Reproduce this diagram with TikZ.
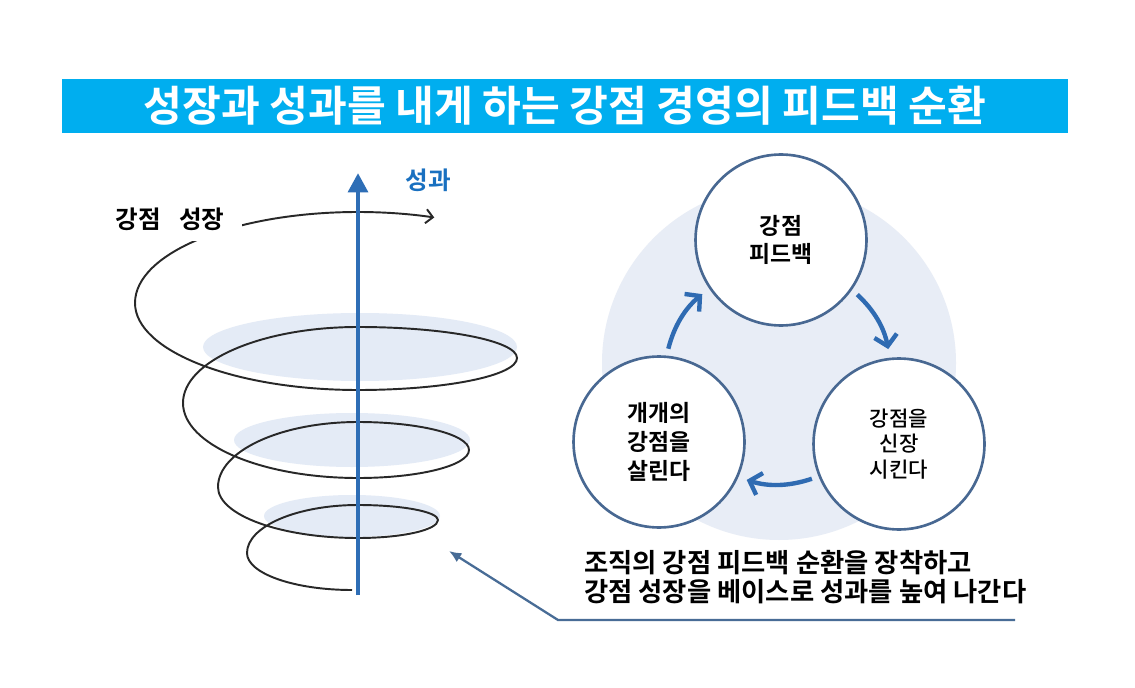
\documentclass[tikz,border=0pt]{standalone}
\usepackage{fontspec}
\setmainfont{Noto Sans CJK KR}[BoldFont={Noto Sans CJK KR Bold}]
\newfontfamily\krmedium{Noto Sans CJK KR Medium}
\usetikzlibrary{arrows.meta}
\definecolor{titlecyan}{RGB}{0,174,239}
\definecolor{axisblue}{RGB}{46,110,182}
\definecolor{labelblue}{RGB}{25,112,192}
\definecolor{discblue}{RGB}{228,235,246}
\definecolor{cyclebg}{RGB}{232,237,246}
\definecolor{ringblue}{RGB}{72,104,146}
\definecolor{arrowblue}{RGB}{47,107,178}
\definecolor{pointerblue}{RGB}{72,108,150}
\definecolor{spiralgrey}{RGB}{40,40,40}
\begin{document}
\begin{tikzpicture}[x=0.02cm, y=0.02cm,
	ring/.style={circle, draw=ringblue, line width=1.5pt, fill=white, minimum size=3.42cm, inner sep=0pt, align=center},
	cyclearrow/.style={draw=arrowblue, line width=2.5pt, -{Straight Barb[length=6pt,width=13pt]}, shorten <=4pt, shorten >=5pt},
	disc/.style={fill=discblue},
	spiral/.style={draw=spiralgrey, line width=1.1pt}]
	\useasboundingbox (0,0) rectangle (1135,687);
	\fill[white] (0,0) rectangle (1135,687);
	\fill[titlecyan] (62,554) rectangle (1068,608) node[midway, text=white, font=\fontsize{24}{28}\selectfont\bfseries] (title) {성장과 성과를 내게 하는 강점 경영의 피드백 순환};

	\fill[disc] (360,340) ellipse[x radius=157, y radius=34];
	\fill[disc] (352,247) ellipse[x radius=118, y radius=27];
	\fill[disc] (352,171) ellipse[x radius=88, y radius=21];
	\draw[spiral, -{Straight Barb[length=4pt,width=8pt]}] (352,97)
		arc[start angle=270, end angle=180, x radius=105, y radius=37]
		arc[start angle=180, end angle=90, x radius=111, y radius=48]
		arc[start angle=90, end angle=0, x radius=80, y radius=15]
		arc[start angle=0, end angle=-90, x radius=80, y radius=18]
		arc[start angle=270, end angle=180, x radius=140, y radius=51]
		arc[start angle=180, end angle=90, x radius=140, y radius=65]
		arc[start angle=90, end angle=0, x radius=111, y radius=28]
		arc[start angle=0, end angle=-90, x radius=111, y radius=28]
		arc[start angle=270, end angle=180, x radius=175, y radius=75]
		arc[start angle=180, end angle=90, x radius=175, y radius=76]
		arc[start angle=90, end angle=0, x radius=159, y radius=31]
		arc[start angle=0, end angle=-90, x radius=159, y radius=32]
		arc[start angle=270, end angle=180, x radius=223, y radius=87]
		arc[start angle=180, end angle=90, x radius=223, y radius=91]
		arc[start angle=90, end angle=70, x radius=223, y radius=91];
	\node[fill=white, inner xsep=10pt, inner ysep=6pt, font=\fontsize{14}{16}\selectfont\bfseries] (growth) at (170,468) {강점\hspace{0.75em}성장};
	\coordinate (axisbase) at (358,92);
	\coordinate (axistop) at (358,514);
	\draw[axisblue, line width=2.8pt, -{Triangle[length=11pt,width=11pt]}] (axisbase) -- (axistop);
	\node[text=labelblue, font=\fontsize{14}{16}\selectfont\bfseries] (perf) at (428,507) {성과};

	\fill[cyclebg] (779,324) circle[radius=177];
	\node[ring, font=\fontsize{13}{16}\selectfont\bfseries] (feedback) at (781,447) {강점\\피드백};
	\node[ring, font=\fontsize{13}{16.5}\selectfont\bfseries] (revive) at (659,245) {개개의\\강점을\\살린다};
	\node[ring, font=\fontsize{12}{14.5}\selectfont\krmedium] (extend) at (899,243) {강점을\\신장\\시킨다};
	\draw[cyclearrow] (revive.85) to[bend left=18] (feedback.214);
	\draw[cyclearrow] (feedback.325) to[bend left=18] (extend.96);
	\draw[cyclearrow] (extend.202) to[bend left=18] (revive.336);

	\node[anchor=west, align=left, font=\fontsize{15}{16.5}\selectfont\bfseries] (summary) at (578,110) {조직의 강점 피드백 순환을 장착하고\\강점 성장을 베이스로 성과를 높여 나간다};
	\coordinate (pointstart) at (1015,67);
	\coordinate (pointcorner) at (558,67);
	\coordinate (pointtip) at (449,136);
	\draw[pointerblue, line width=1.3pt, -{Latex[length=7pt,width=6pt]}] (pointstart) -- (pointcorner) -- (pointtip);
\end{tikzpicture}
\end{document}
